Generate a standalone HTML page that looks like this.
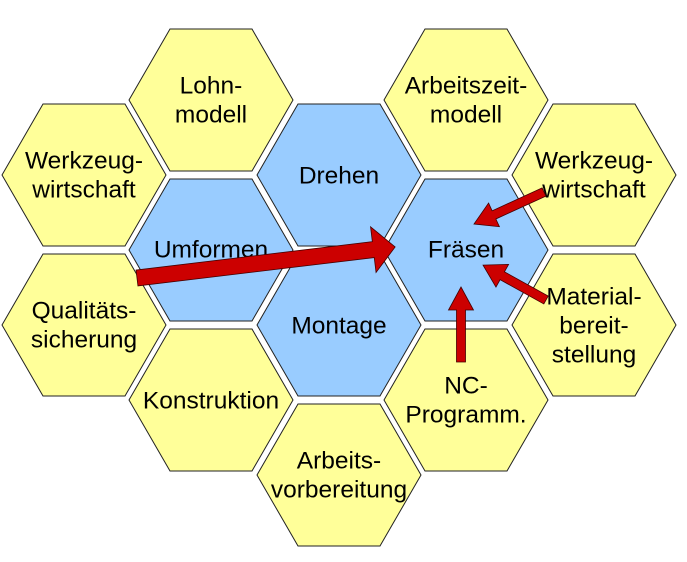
<!DOCTYPE html>
<html><head><meta charset="utf-8"><style>
html,body{margin:0;padding:0;background:#fff;}
svg{display:block;}
text{font-family:"Liberation Sans",Arial,sans-serif;font-size:24.5px;fill:#000;text-anchor:middle;dominant-baseline:central;}
</style></head><body>
<svg width="687" height="562" viewBox="0 0 687 562" xmlns="http://www.w3.org/2000/svg">
<defs>
<polygon id="h" points="-82,0 -41,-71 41,-71 82,0 41,71 -41,71" stroke="#222" stroke-width="1"/>
</defs>
<g>
<use href="#h" x="84" y="175" fill="#FFFF99"/>
<use href="#h" x="84" y="325" fill="#FFFF99"/>
<use href="#h" x="211" y="100" fill="#FFFF99"/>
<use href="#h" x="211" y="250" fill="#99CCFF"/>
<use href="#h" x="211" y="400" fill="#FFFF99"/>
<use href="#h" x="339" y="175" fill="#99CCFF"/>
<use href="#h" x="339" y="325" fill="#99CCFF"/>
<use href="#h" x="339" y="475" fill="#FFFF99"/>
<use href="#h" x="466" y="100" fill="#FFFF99"/>
<use href="#h" x="466" y="250" fill="#99CCFF"/>
<use href="#h" x="466" y="400" fill="#FFFF99"/>
<use href="#h" x="594" y="175" fill="#FFFF99"/>
<use href="#h" x="594" y="325" fill="#FFFF99"/>
</g>
<text x="84" y="161">Werkzeug-</text><text x="84" y="190">wirtschaft</text>
<text x="84" y="311">Qualitäts-</text><text x="84" y="340">sicherung</text>
<text x="211" y="86">Lohn-</text><text x="211" y="115">modell</text>
<text x="211" y="250">Umformen</text>
<text x="211" y="401">Konstruktion</text>
<text x="339" y="176">Drehen</text>
<text x="339" y="326">Montage</text>
<text x="339" y="461">Arbeits-</text><text x="339" y="490">vorbereitung</text>
<text x="466" y="86">Arbeitszeit-</text><text x="466" y="115">modell</text>
<text x="466" y="250">Fräsen</text>
<text x="466" y="386">NC-</text><text x="466" y="415">Programm.</text>
<text x="594" y="161">Werkzeug-</text><text x="594" y="190">wirtschaft</text>
<text x="594" y="297">Material-</text><text x="594" y="326">bereit-</text><text x="594" y="355">stellung</text>
<g fill="#CC0000" stroke="#400" stroke-width="0.8">
<g transform="translate(137,278) rotate(-6.85)"><polygon points="0,-8 238,-8 238,-23 260,0 238,23 238,8 0,8"/></g>
<g transform="translate(544,192) rotate(155.4)"><polygon points="0,-4.5 55,-4.5 55,-13 77,0 55,13 55,4.5 0,4.5"/></g>
<g transform="translate(546,300) rotate(209)"><polygon points="0,-4.5 50,-4.5 50,-13 72,0 50,13 50,4.5 0,4.5"/></g>
<g transform="translate(461,362) rotate(-90)"><polygon points="0,-4.5 52,-4.5 52,-12.5 75,0 52,12.5 52,4.5 0,4.5"/></g>
</g>
</svg>
</body></html>
